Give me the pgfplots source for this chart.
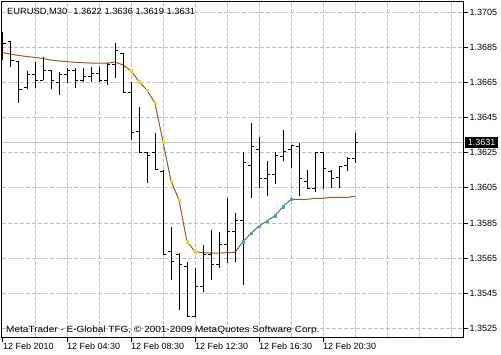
\documentclass[border=0pt]{standalone}
\usepackage{fontspec}
\setmainfont{Liberation Sans}
\usepackage{graphicx}
\usepackage{pgfplots}
\usepackage{pgfplotstable}
\pgfplotsset{compat=1.18}

\definecolor{magrid}{RGB}{192,192,192}
\definecolor{mabrown}{RGB}{165,82,30}
\definecolor{dotyellow}{RGB}{255,210,0}
\definecolor{dotcyan}{RGB}{0,185,255}

\pgfplotstableread{
i o h l c
0 1.36864 1.36938 1.36778 1.36875
1 1.36881 1.36881 1.36738 1.36778
2 1.36767 1.36767 1.36533 1.36613
3 1.36619 1.36716 1.36613 1.36693
4 1.36693 1.36767 1.36619 1.36664
5 1.36664 1.36795 1.36664 1.36721
6 1.36716 1.36721 1.36613 1.36664
7 1.36653 1.36710 1.36579 1.36693
8 1.36693 1.36733 1.36647 1.36721
9 1.36721 1.36733 1.36619 1.36664
10 1.36664 1.36733 1.36653 1.36682
11 1.36682 1.36738 1.36653 1.36699
12 1.36699 1.36738 1.36653 1.36664
13 1.36664 1.36761 1.36636 1.36750
14 1.36750 1.36875 1.36676 1.36835
15 1.36818 1.36818 1.36590 1.36596
16 1.36596 1.36653 1.36323 1.36363
17 1.36374 1.36511 1.36249 1.36254
18 1.36249 1.36254 1.36078 1.36232
19 1.36254 1.36363 1.36152 1.36152
20 1.36146 1.36152 1.35668 1.35668
21 1.35685 1.35827 1.35525 1.35628
22 1.35668 1.35679 1.35355 1.35611
23 1.35605 1.35628 1.35315 1.35320
24 1.35320 1.35594 1.35315 1.35486
25 1.35486 1.35725 1.35457 1.35668
26 1.35668 1.35810 1.35525 1.35611
27 1.35611 1.35799 1.35594 1.35725
28 1.35725 1.35992 1.35622 1.35799
29 1.35799 1.35907 1.35628 1.35867
30 1.35867 1.36254 1.35497 1.36192
31 1.36180 1.36419 1.35992 1.36283
32 1.36271 1.36340 1.36049 1.36101
33 1.36101 1.36203 1.36004 1.36129
34 1.36129 1.36254 1.36072 1.36232
35 1.36226 1.36380 1.36203 1.36260
36 1.36271 1.36294 1.36163 1.36294
37 1.36283 1.36306 1.36004 1.36101
38 1.36089 1.36152 1.36044 1.36044
39 1.36044 1.36254 1.36027 1.36249
40 1.36249 1.36254 1.36044 1.36163
41 1.36146 1.36152 1.36049 1.36101
42 1.36112 1.36169 1.36049 1.36169
43 1.36175 1.36226 1.36146 1.36220
44 1.36220 1.36363 1.36192 1.36310
}\bars

\pgfplotstableread{
i ma
0 1.36820
1 1.36812
2 1.36804
3 1.36798
4 1.36793
5 1.36787
6 1.36778
7 1.36773
8 1.36769
9 1.36765
10 1.36763
11 1.36761
12 1.36760
13 1.36760
14 1.36767
15 1.36750
16 1.36717
17 1.36655
18 1.36607
19 1.36532
20 1.36313
21 1.36089
22 1.35981
23 1.35744
24 1.35687
25 1.35681
26 1.35679
27 1.35679
28 1.35681
29 1.35683
30 1.35744
31 1.35791
32 1.35833
33 1.35861
34 1.35892
35 1.35943
36 1.35985
37 1.35985
38 1.35985
39 1.35991
40 1.35991
41 1.35996
42 1.35996
43 1.35996
44 1.36002
}\ma

\begin{document}
\begin{tikzpicture}[x=1pt,y=1pt]
\begin{axis}[
  scale only axis, width=461pt, height=335pt,
  xmin=-0.125, xmax=57.5, ymin=1.352008, ymax=1.371087,
  axis line style={black, line width=1pt},
  tick align=outside, major tick length=5pt,
  every tick/.style={black, line width=1pt},
  ytick={1.3525,1.3545,1.3565,1.3585,1.3605,1.3625,1.3645,1.3665,1.3685,1.3705},
  ytick pos=right, yticklabel pos=right,
  ymajorgrids=true,
  major grid style={magrid, line width=1pt, dash pattern=on 4pt off 2pt},
  yticklabel style={/pgf/number format/.cd, fixed, fixed zerofill, precision=4, assume math mode=true, /tikz/.cd, anchor=west, inner sep=0pt, xshift=1.5pt, font=\fontsize{9}{10}\selectfont},
  xtick={0,8,16,24,32,40},
  xticklabels={12 Feb 2010, 12 Feb 04:30, 12 Feb 08:30, 12 Feb 12:30, 12 Feb 16:30, 12 Feb 20:30},
  xtick pos=bottom,
  xticklabel style={anchor=north west, inner sep=0pt, yshift=-1pt, font=\fontsize{9}{10}\selectfont},
  extra x ticks={4,8,12,16,20,24,28,32,36,40,44,48,52,56},
  extra x tick labels={},
  extra x tick style={grid=major, major tick length=0pt},
  clip=true,
]
\addplot[magrid, line width=1pt] coordinates {(-0.125,1.3631) (57.5,1.3631)};
\addplot[mabrown, line width=1pt] table[x=i, y=ma] {\ma};
\addplot[only marks, mark=square*, mark size=1.2pt, mark options={draw=dotyellow, fill=dotyellow}, restrict x to domain=16:24] table[x=i, y=ma] {\ma};
\addplot[only marks, mark=square*, mark size=1.2pt, mark options={draw=dotcyan, fill=dotcyan}, restrict x to domain=30:36] table[x=i, y=ma] {\ma};
\addplot[black, line width=1pt, -, quiver={u=0, v=\thisrow{h}-\thisrow{l}}] table[x=i, y=l] {\bars};
\addplot[black, line width=1pt, -, quiver={u=-0.35, v=0}] table[x=i, y=o] {\bars};
\addplot[black, line width=1pt, -, quiver={u=0.35, v=0}] table[x=i, y=c] {\bars};
\coordinate (bl) at (rel axis cs:0,0);
\coordinate (pr) at (axis cs:57.5,1.3631);
\end{axis}
\pgfresetboundingbox
\coordinate (o) at ([shift={(-2,-17)}]bl);
\path[use as bounding box] (o) rectangle ([shift={(501,354)}]o);
\node[anchor=base west, inner sep=0pt, font=\fontsize{9}{10}\selectfont] at ([shift={(7,339)}]o) {\scalebox{1.035}[1]{EURUSD,M30\hspace{6pt}1.3622 1.3636 1.3619 1.3631}};
\node[anchor=base west, inner sep=0pt, font=\fontsize{9}{10}\selectfont] at ([shift={(6,21.5)}]o) {\scalebox{1.115}[1]{MetaTrader - E-Global TFG, © 2001-2009 MetaQuotes Software Corp.}};
\node[anchor=west, fill=black, text=white, inner sep=0pt, minimum width=33pt, minimum height=11pt, font=\fontsize{9}{10}\selectfont] at ([xshift=2pt]pr) {1.3631};
\end{tikzpicture}
\end{document}
